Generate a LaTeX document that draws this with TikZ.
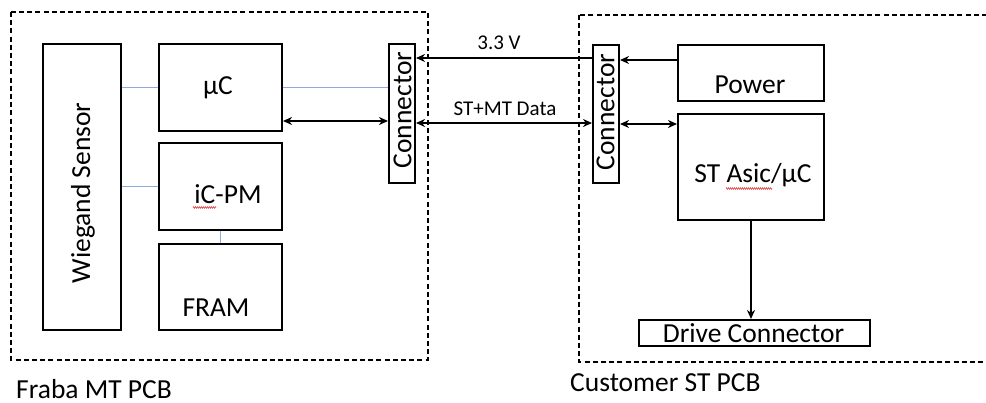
\documentclass[tikz,border=0pt]{standalone}
\usepackage{fontspec}
\setmainfont{Carlito}
\usetikzlibrary{arrows.meta,decorations.pathmorphing}
\definecolor{lineblue}{RGB}{143,170,220}
\definecolor{spellred}{RGB}{230,60,60}
\begin{document}
\begin{tikzpicture}[x=1pt,y=-1pt,
  box/.style={draw,line width=2pt,inner sep=0pt,anchor=center},
  big/.style={font=\fontsize{27.5}{32}\selectfont},
  small/.style={font=\fontsize{21}{25}\selectfont},
  pcb/.style={draw,line width=1.4pt,dash pattern=on 5pt off 3.2pt},
  bl/.style={draw=lineblue,line width=1.6pt},
  arr/.style={line width=2.2pt,-{Stealth[length=9pt,width=8pt]}},
  dbl/.style={line width=2.2pt,{Stealth[length=9pt,width=8pt]}-{Stealth[length=9pt,width=8pt]}},
  spell/.style={draw=spellred,line width=0.6pt,decorate,decoration={zigzag,amplitude=0.8pt,segment length=2pt}}]
\clip (0,0) rectangle (986,403);
\fill[white] (0,0) rectangle (986,403);
% PCB frames
\draw[pcb] (11,12) rectangle (428,360);
\draw[pcb] (579,15) rectangle (1010,362);
% left board
\node[box,minimum width=78pt,minimum height=286pt] (wieg) at (82,187) {};
\node[big,rotate=90] (wiegt) at (83,193) {Wiegand Sensor};
\node[box,minimum width=123pt,minimum height=87pt] (uc) at (220.5,87.5) {};
\node[big] (uct) at (218,88) {µC};
\node[box,minimum width=123pt,minimum height=87pt] (icpm) at (220.5,186.5) {};
\node[big] (icpmt) at (228,194.5) {iC-PM};
\node[box,minimum width=123pt,minimum height=86pt] (fram) at (220.5,287) {};
\node[big] (framt) at (216,307.5) {FRAM};
\node[box,minimum width=26pt,minimum height=139pt] (conL) at (402,113.5) {};
\node[big,rotate=90] (conLt) at (402.5,110) {Connector};
% right board
\node[box,minimum width=26pt,minimum height=138pt] (conR) at (606,114) {};
\node[big,rotate=90] (conRt) at (605.5,112) {Connector};
\node[box,minimum width=146pt,minimum height=56pt] (power) at (751,73) {};
\node[big] (powert) at (750,84.5) {Power};
\node[box,minimum width=146pt,minimum height=106pt] (asic) at (751,167) {};
\node[big] (asict) at (753,175.5) {ST Asic/µC};
\node[box,minimum width=231pt,minimum height=26pt] (drive) at (754.5,333) {};
\node[big] (drivet) at (753.5,333.5) {Drive Connector};
% blue links
\draw[bl] (uc.west) -- (uc.west -| wieg.east);
\draw[bl] (uc.east) -- (uc.east -| conL.west);
\draw[bl] (icpm.west) -- (icpm.west -| wieg.east);
\draw[bl] (icpm.south) -- (fram.north);
% black arrows
\draw[dbl] ([yshift=-33.5pt]uc.east) -- ([yshift=-33.5pt]uc.east -| conL.west);
\draw[arr] ([yshift=56pt]conR.west) -- ([yshift=56pt]conR.west -| conL.east);
\draw[dbl] ([yshift=-9.5pt]conL.east) -- ([yshift=-9.5pt]conL.east -| conR.west);
\draw[arr] ([yshift=13pt]power.west) -- ([yshift=13pt]power.west -| conR.east);
\draw[dbl] ([yshift=43pt]asic.west) -- ([yshift=43pt]asic.west -| conR.east);
\draw[arr] (asic.south) -- (asic.south |- drive.north);
% link labels
\node[small] (v33) at (499,43) {3.3 V};
\node[small] (data) at (505,108.5) {ST+MT Data};
% spell-check marks
\draw[spell] (193,207.5) -- (216,207.5);
\draw[spell] (726,188.5) -- (772,188.5);
% board names
\node[big,anchor=base west,inner sep=0pt] (fraba) at (16,398.5) {Fraba MT PCB};
\node[big,anchor=base west,inner sep=0pt] (cust) at (570,391.5) {Customer ST PCB};
\end{tikzpicture}
\end{document}
